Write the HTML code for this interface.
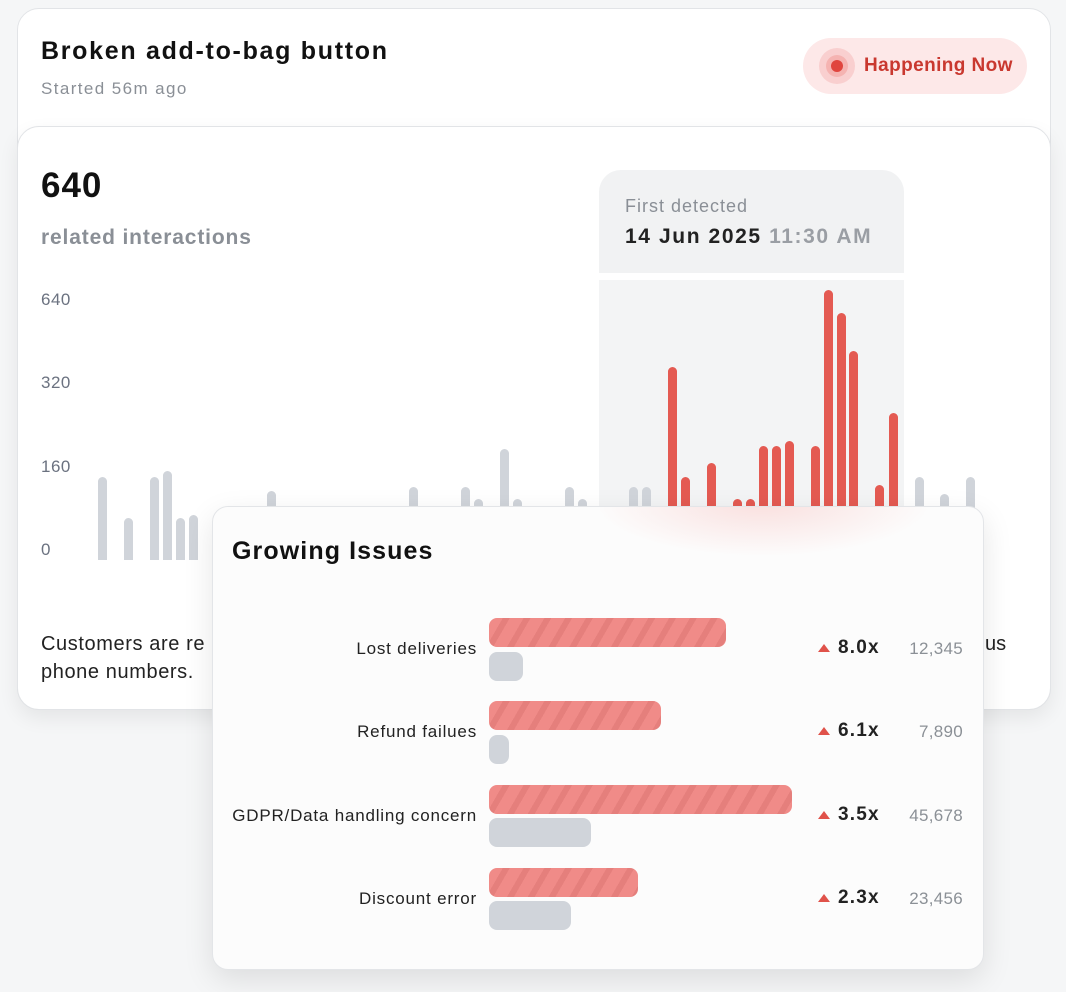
<!DOCTYPE html>
<html><head><meta charset="utf-8"><style>
*{margin:0;padding:0;box-sizing:border-box}
body{width:1066px;height:992px;background:#f5f6f7;font-family:"Liberation Sans",sans-serif;position:relative;overflow:hidden}
.abs{position:absolute}
.card1{left:17px;top:8px;width:1034px;height:702px;background:#fff;border:1px solid #e2e4e7;border-radius:22px}
.card2{left:17px;top:126px;width:1034px;height:584px;background:#fff;border:1px solid #e2e4e7;border-radius:22px;box-shadow:0 8px 20px rgba(0,0,0,.07)}
.yl{left:41px;font-size:17px;color:#6b7280;line-height:20px;letter-spacing:.5px}
.bar{position:absolute;width:9px;border-radius:5px 5px 0 0;bottom:432px}
.g{background:#d0d4da}.r{background:#e45a52}
.card3{left:212px;top:506px;width:772px;height:464px;background:#fcfcfc;border:1px solid #e3e5e8;border-radius:16px;box-shadow:0 10px 30px rgba(0,0,0,.10);overflow:hidden}
.lab{position:absolute;right:506px;font-size:17px;color:#222;white-space:nowrap;letter-spacing:.8px}
.rb{position:absolute;left:276px;height:29px;border-radius:8px;background:repeating-linear-gradient(120deg,#f08b88 0 12px,#e57f7c 12px 18px)}
.gb{position:absolute;left:276px;height:29px;border-radius:8px;background:#d0d4da}
.tri{position:absolute;left:605px;width:0;height:0;border-left:6px solid transparent;border-right:6px solid transparent;border-bottom:8px solid #e0524a}
.val{position:absolute;left:625px;font-size:19px;font-weight:bold;color:#222;letter-spacing:1.2px}
.cnt{position:absolute;right:20px;font-size:17px;color:#8b9096;letter-spacing:.3px}
</style></head><body>
<div class="abs card1"></div>
<div class="abs" style="left:41px;top:37px;font-size:25px;font-weight:bold;color:#111;letter-spacing:1.7px">Broken add-to-bag button</div>
<div class="abs" style="left:41px;top:79px;font-size:17px;color:#8a8f96;letter-spacing:1.4px">Started 56m ago</div>
<div class="abs" style="left:803px;top:38px;width:224px;height:56px;border-radius:28px;background:#fde8e8"></div>
<div class="abs" style="left:819px;top:48px;width:36px;height:36px;border-radius:50%;background:#f9cfcf"></div>
<div class="abs" style="left:826px;top:55px;width:22px;height:22px;border-radius:50%;background:#f5b3b1"></div>
<div class="abs" style="left:831px;top:60px;width:12px;height:12px;border-radius:50%;background:#e0453e"></div>
<div class="abs" style="left:864px;top:55px;font-size:19px;font-weight:bold;color:#c9382f;letter-spacing:.4px">Happening Now</div>
<div class="abs card2"></div>
<div class="abs" style="left:41px;top:166px;font-size:35px;font-weight:bold;color:#111;letter-spacing:1px">640</div>
<div class="abs" style="left:41px;top:226px;font-size:21px;font-weight:bold;color:#8a8f96;letter-spacing:.85px">related interactions</div>
<div class="abs" style="left:599px;top:170px;width:305px;height:103px;background:#f1f2f3;border-radius:22px 22px 0 0"></div>
<div class="abs" style="left:599px;top:280px;width:305px;height:300px;background:#f3f4f5"></div>
<div class="abs" style="left:625px;top:196px;font-size:18px;color:#8a8f96;letter-spacing:1px">First detected</div>
<div class="abs" style="left:625px;top:225px;font-size:21px;font-weight:bold;color:#222;letter-spacing:1.6px">14 Jun 2025 <span style="color:#9a9ea4">11:30 AM</span></div>
<div class="abs yl" style="top:290px">640</div>
<div class="abs yl" style="top:373px">320</div>
<div class="abs yl" style="top:457px">160</div>
<div class="abs yl" style="top:540px">0</div>
<div class="abs" style="left:0;top:0;width:1066px;height:992px">
<div class="bar g" style="left:98px;height:83px"></div>
<div class="bar g" style="left:124px;height:42px"></div>
<div class="bar g" style="left:150px;height:83px"></div>
<div class="bar g" style="left:163px;height:89px"></div>
<div class="bar g" style="left:176px;height:42px"></div>
<div class="bar g" style="left:189px;height:45px"></div>
<div class="bar g" style="left:267px;height:69px"></div>
<div class="bar g" style="left:409px;height:73px"></div>
<div class="bar g" style="left:461px;height:73px"></div>
<div class="bar g" style="left:474px;height:61px"></div>
<div class="bar g" style="left:500px;height:111px"></div>
<div class="bar g" style="left:513px;height:61px"></div>
<div class="bar g" style="left:565px;height:73px"></div>
<div class="bar g" style="left:578px;height:61px"></div>
<div class="bar g" style="left:629px;height:73px"></div>
<div class="bar g" style="left:642px;height:73px"></div>
<div class="bar r" style="left:668px;height:193px"></div>
<div class="bar r" style="left:681px;height:83px"></div>
<div class="bar r" style="left:707px;height:97px"></div>
<div class="bar r" style="left:733px;height:61px"></div>
<div class="bar r" style="left:746px;height:61px"></div>
<div class="bar r" style="left:759px;height:114px"></div>
<div class="bar r" style="left:772px;height:114px"></div>
<div class="bar r" style="left:785px;height:119px"></div>
<div class="bar r" style="left:811px;height:114px"></div>
<div class="bar r" style="left:824px;height:270px"></div>
<div class="bar r" style="left:837px;height:247px"></div>
<div class="bar r" style="left:849px;height:209px"></div>
<div class="bar r" style="left:875px;height:75px"></div>
<div class="bar r" style="left:889px;height:147px"></div>
<div class="bar g" style="left:915px;height:83px"></div>
<div class="bar g" style="left:940px;height:66px"></div>
<div class="bar g" style="left:966px;height:83px"></div>
</div>
<div class="abs" style="left:41px;top:630px;font-size:20px;color:#222;line-height:28px;letter-spacing:.6px">Customers are re<br>phone numbers.</div>
<div class="abs" style="left:985px;top:630px;font-size:20px;color:#222;line-height:28px">us</div>
<div class="abs card3">
<div class="abs" style="left:380px;top:-60px;width:340px;height:110px;border-radius:50%;background:radial-gradient(ellipse,rgba(240,120,115,.22),rgba(240,120,115,0) 70%)"></div>
<div class="abs" style="left:19px;top:30px;font-size:25px;font-weight:bold;color:#111;letter-spacing:1.1px">Growing Issues</div>
<div class="lab" style="top:132px">Lost deliveries</div>
<div class="rb" style="top:111px;width:237px"></div><div class="gb" style="top:145px;width:34px"></div>
<div class="tri" style="top:137px"></div><div class="val" style="top:130px">8.0x</div><div class="cnt" style="top:132px">12,345</div>
<div class="lab" style="top:215px">Refund failues</div>
<div class="rb" style="top:194px;width:172px"></div><div class="gb" style="top:228px;width:20px"></div>
<div class="tri" style="top:220px"></div><div class="val" style="top:213px">6.1x</div><div class="cnt" style="top:215px">7,890</div>
<div class="lab" style="top:299px">GDPR/Data handling concern</div>
<div class="rb" style="top:278px;width:303px"></div><div class="gb" style="top:311px;width:102px"></div>
<div class="tri" style="top:304px"></div><div class="val" style="top:297px">3.5x</div><div class="cnt" style="top:299px">45,678</div>
<div class="lab" style="top:382px">Discount error</div>
<div class="rb" style="top:361px;width:149px"></div><div class="gb" style="top:394px;width:82px"></div>
<div class="tri" style="top:387px"></div><div class="val" style="top:380px">2.3x</div><div class="cnt" style="top:382px">23,456</div>
</div>
</body></html>
